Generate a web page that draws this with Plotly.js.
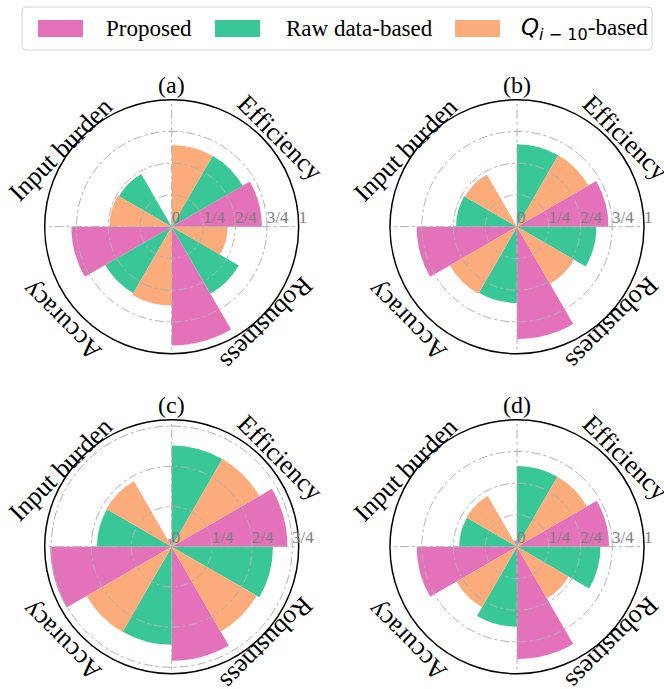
<!DOCTYPE html>
<html>
<head>
<meta charset="utf-8">
<script src="https://cdn.plot.ly/plotly-3.0.1.min.js"></script>
<style>html,body{margin:0;padding:0;background:#fff}</style>
</head>
<body>
<div id="chart" style="width:664px;height:689px"></div>
<script>
// Criteria, one quadrant each (clockwise from the top)
const categories = ['Efficiency', 'Robustness', 'Accuracy', 'Input burden'];
const panelNames = ['(a)', '(b)', '(c)', '(d)'];
const seriesNames = ['Proposed', 'Raw data-based', '<span style="font-family:\'DejaVu Sans\'"><i>Q</i><sub><i>i</i> − 10</sub></span>-based'];

// Normalised scores, in category order
const proposedA = [0.71, 0.935, 0.79, 0.00];
const rawA      = [0.645, 0.61, 0.605, 0.48];
const qA        = [0.643, 0.44, 0.62, 0.49];

const proposedB = [0.72, 0.885, 0.79, 0.00];
const rawB      = [0.65, 0.625, 0.60, 0.48];
const qB        = [0.65, 0.52, 0.61, 0.475];

const proposedC = [0.72, 0.71, 0.755, 0.05];
const rawC      = [0.63, 0.63, 0.61, 0.465];
const qC        = [0.63, 0.61, 0.612, 0.47];

const proposedD = [0.725, 0.885, 0.79, 0.05];
const rawD      = [0.636, 0.657, 0.63, 0.455];
const qD        = [0.636, 0.47, 0.55, 0.46];

// Radial ticks
const radialTicks = [0, 0.25, 0.5, 0.75, 1];
const radialTickText = ['0', '1/4', '2/4', '3/4', '1'];
const radialMax = [1, 1, 0.79, 1];

const colors = ['#E472BA', '#3AC798', '#FCAB7A'];
const FONT = 'Liberation Serif, Times New Roman, serif';
const W = 664, H = 689;

const panelData = [
  [proposedA, rawA, qA],
  [proposedB, rawB, qB],
  [proposedC, rawC, qC],
  [proposedD, rawD, qD]
];
// slot of each series inside a quadrant (0 = first slot clockwise from the quadrant start)
const slotOrder = [
  [2, 1, 0],
  [2, 0, 1],
  [2, 0, 1],
  [2, 0, 1]
];
const quadrantStart = [90, 0, -90, 180];

// pixel geometry of each polar subplot
const centers = [[171.7, 226.7], [517, 226.7], [171.7, 546.7], [517, 546.7]];
const R = 127;

const px = x => x / W;
const py = y => 1 - y / H;

const data = [];
const layout = {
  width: W, height: H,
  margin: {l: 0, r: 0, t: 0, b: 0},
  paper_bgcolor: '#fff',
  showlegend: false,
  font: {family: FONT, color: '#000'},
  annotations: [],
  shapes: []
};

panelData.forEach((series, p) => {
  const sub = p === 0 ? 'polar' : 'polar' + (p + 1);
  const [cx, cy] = centers[p];
  const rmax = radialMax[p];

  series.forEach((vals, s) => {
    data.push({
      type: 'barpolar',
      subplot: sub,
      name: seriesNames[s],
      r: vals,
      theta: quadrantStart.map(q => q - 15 - 30 * slotOrder[p][s]),
      width: 30,
      marker: {color: colors[s], line: {width: 0}},
      hoverinfo: 'skip'
    });
  });

  // dash-dot grid drawn over the bars
  const grid = {color: '#b0b0b0', width: 1, dash: 'dashdot'};
  radialTicks.filter(t => t > 0 && t < rmax).forEach(t => {
    const th = [];
    for (let a = 0; a <= 360; a += 2) th.push(a);
    data.push({type: 'scatterpolar', subplot: sub, mode: 'lines', r: th.map(() => t), theta: th,
      line: grid, hoverinfo: 'skip'});
  });
  [0, 90, 180, 270].forEach(a => {
    data.push({type: 'scatterpolar', subplot: sub, mode: 'lines', r: [0, rmax], theta: [a, a],
      line: grid, hoverinfo: 'skip'});
  });

  const ticks = radialTicks.filter(t => t <= rmax + 1e-9);
  const pad = txt => '\u00a0'.repeat(txt.length === 1 ? 2 : 5) + txt;
  layout[sub] = {
    domain: {x: [px(cx - R), px(cx + R)], y: [py(cy + R), py(cy - R)]},
    bgcolor: '#fff',
    radialaxis: {
      range: [0, rmax], angle: 0, side: 'counterclockwise', tickangle: 0,
      tickvals: ticks, ticktext: ticks.map(t => pad(radialTickText[radialTicks.indexOf(t)])),
      tickfont: {family: FONT, size: 17, color: '#808080'},
      showgrid: false, showline: false, ticks: '', layer: 'above traces'
    },
    angularaxis: {
      rotation: 0, direction: 'counterclockwise',
      showgrid: false, showticklabels: false, ticks: '',
      showline: true, linecolor: '#000', linewidth: 1.5
    }
  };

  layout.annotations.push({
    xref: 'paper', yref: 'paper', x: px(cx), y: py(cy - 142), text: panelNames[p],
    showarrow: false, xanchor: 'center', yanchor: 'middle',
    font: {family: FONT, size: 24, color: '#000'}
  });

  // criterion labels set along the rim
  const labelPos = [[108, -89, 45], [95, 96, 135], [-110, 94, -135], [-111, -77, -45]];
  categories.forEach((c, i) => {
    const [dx, dy, rot] = labelPos[i];
    layout.annotations.push({
      xref: 'paper', yref: 'paper', x: px(cx + dx), y: py(cy + dy), text: c,
      showarrow: false, xanchor: 'center', yanchor: 'middle', textangle: rot,
      font: {family: FONT, size: 26, color: '#000'}
    });
  });
});

// legend box
const lx0 = 22, lx1 = 652, ly0 = 7, ly1 = 50, rr = 4;
layout.shapes.push({
  type: 'path', xref: 'paper', yref: 'paper',
  path: `M${px(lx0 + rr)},${py(ly0)} L${px(lx1 - rr)},${py(ly0)} Q${px(lx1)},${py(ly0)} ${px(lx1)},${py(ly0 + rr)} ` +
        `L${px(lx1)},${py(ly1 - rr)} Q${px(lx1)},${py(ly1)} ${px(lx1 - rr)},${py(ly1)} ` +
        `L${px(lx0 + rr)},${py(ly1)} Q${px(lx0)},${py(ly1)} ${px(lx0)},${py(ly1 - rr)} ` +
        `L${px(lx0)},${py(ly0 + rr)} Q${px(lx0)},${py(ly0)} ${px(lx0 + rr)},${py(ly0)} Z`,
  line: {color: '#d4d4d4', width: 1}, fillcolor: 'rgba(255,255,255,0.8)'
});
const legendPatchX = [38, 215, 455];
const legendTextX = [104, 284, 519];
seriesNames.forEach((n, s) => {
  layout.shapes.push({
    type: 'rect', xref: 'paper', yref: 'paper',
    x0: px(legendPatchX[s]), x1: px(legendPatchX[s] + 45), y0: py(37), y1: py(20),
    fillcolor: colors[s], line: {width: 0}
  });
  layout.annotations.push({
    xref: 'paper', yref: 'paper', x: px(legendTextX[s]), y: py(28.5), text: n,
    showarrow: false, xanchor: 'left', yanchor: 'middle',
    font: {family: FONT, size: 23, color: '#000'}
  });
});

Plotly.newPlot('chart', data, layout, {displayModeBar: false, staticPlot: true});
</script>
</body>
</html>
